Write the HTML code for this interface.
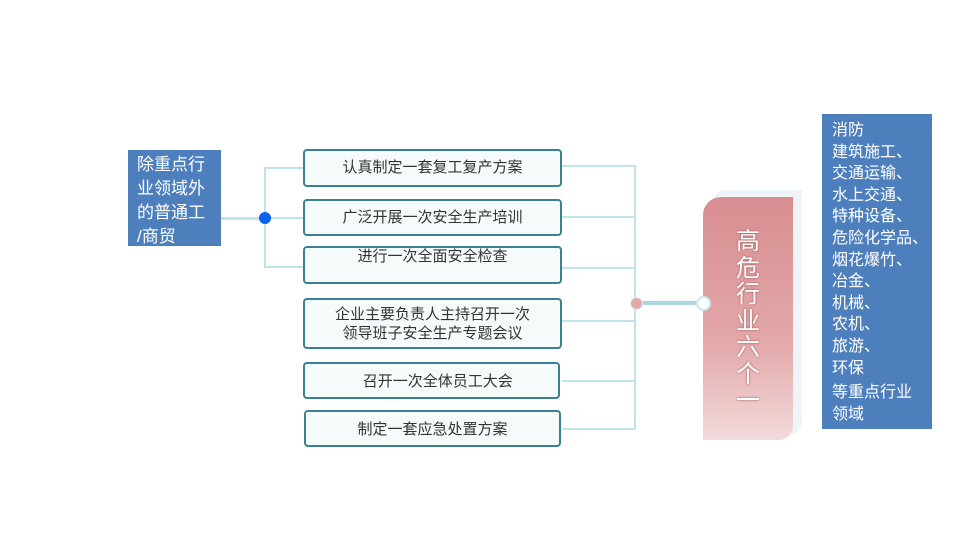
<!DOCTYPE html>
<html><head><meta charset="utf-8"><style>
body{margin:0;width:960px;height:540px;background:#fff;position:relative;overflow:hidden;font-family:"Liberation Sans","Noto Sans CJK SC",sans-serif}
.a{position:absolute}
.box{position:absolute;left:303px;width:255px;border:2px solid #3a8291;border-radius:4px;background:#f5fafb;color:#333;font-size:15px;text-align:center;box-sizing:content-box}
.l{position:absolute;background:#bfe3e8}
</style></head><body>
<div class="a" style="left:128px;top:150px;width:93px;height:96px;background:#4e7fbd;color:#fff;font-size:17px;line-height:24px;padding:3px 0 0 9px;box-sizing:border-box">除重点行<br>业领域外<br>的普通工<br>/商贸</div>
<div class="l" style="left:221px;top:217px;width:44px;height:3px"></div>
<div class="l" style="left:264px;top:167px;width:2px;height:101px"></div>
<div class="l" style="left:265px;top:167px;width:38px;height:2px"></div>
<div class="l" style="left:265px;top:217px;width:38px;height:2px"></div>
<div class="l" style="left:265px;top:266px;width:38px;height:2px"></div>
<div class="a" style="left:259px;top:212px;width:12px;height:12px;border-radius:50%;background:#0a63f0"></div>

<div class="box" style="top:149px;height:34px;line-height:34px">认真制定一套复工复产方案</div>
<div class="box" style="top:199px;height:33px;line-height:33px">广泛开展一次安全生产培训</div>
<div class="box" style="top:246px;height:34px;line-height:18px">进行一次全面安全检查</div>
<div class="box" style="top:298px;height:47px;line-height:19px;padding-top:0;display:flex;align-items:center;justify-content:center">企业主要负责人主持召开一次<br>领导班子安全生产专题会议</div>
<div class="box" style="top:362px;height:33px;line-height:36px;width:253px">&nbsp;&nbsp;&nbsp;召开一次全体员工大会</div>
<div class="box" style="top:410px;height:33px;line-height:36px;left:304px;width:253px">制定一套应急处置方案</div>

<div class="l" style="left:634px;top:165px;width:2px;height:264px"></div>
<div class="l" style="left:562px;top:165px;width:73px;height:2px"></div>
<div class="l" style="left:562px;top:216px;width:73px;height:2px"></div>
<div class="l" style="left:562px;top:267px;width:73px;height:2px"></div>
<div class="l" style="left:562px;top:320px;width:73px;height:2px"></div>
<div class="l" style="left:562px;top:380px;width:73px;height:2px"></div>
<div class="l" style="left:562px;top:428px;width:73px;height:2px"></div>
<div class="a" style="left:636px;top:301px;width:66px;height:4px;background:#a9d6e0"></div>
<div class="a" style="left:630px;top:297px;width:11px;height:11px;border-radius:50%;background:#e2a9ab;border:1px solid #e8eef0"></div>

<div class="a" style="left:712px;top:190px;width:90px;height:245px;background:#eef4f8;border-radius:14px 0 14px 0"></div>
<div class="a" style="left:703px;top:197px;width:90px;height:243px;border-radius:18px 0 14px 0;background:linear-gradient(#d88e90,#e3a8aa 60%,#f2dada);color:#fff;font-size:24px;line-height:26.5px;text-align:center;padding-top:32px;box-sizing:border-box;text-shadow:0 0 2px #9a5557">高<br>危<br>行<br>业<br>六<br>个<br>一</div>
<div class="a" style="left:696px;top:296px;width:11px;height:11px;border-radius:50%;background:#fff;border:2px solid #cde6ec"></div>

<div class="a" style="left:822px;top:114px;width:110px;height:315px;background:#4e7fbd;color:#fff;font-size:16px;line-height:21.6px;padding:6px 0 0 10px;box-sizing:border-box;white-space:nowrap">消防<br>建筑施工、<br>交通运输、<br>水上交通、<br>特种设备、<br>危险化学品、<br>烟花爆竹、<br>冶金、<br>机械、<br>农机、<br>旅游、<br>环保<br><div style="margin-top:3px">等重点行业<br>领域</div></div>
</body></html>
